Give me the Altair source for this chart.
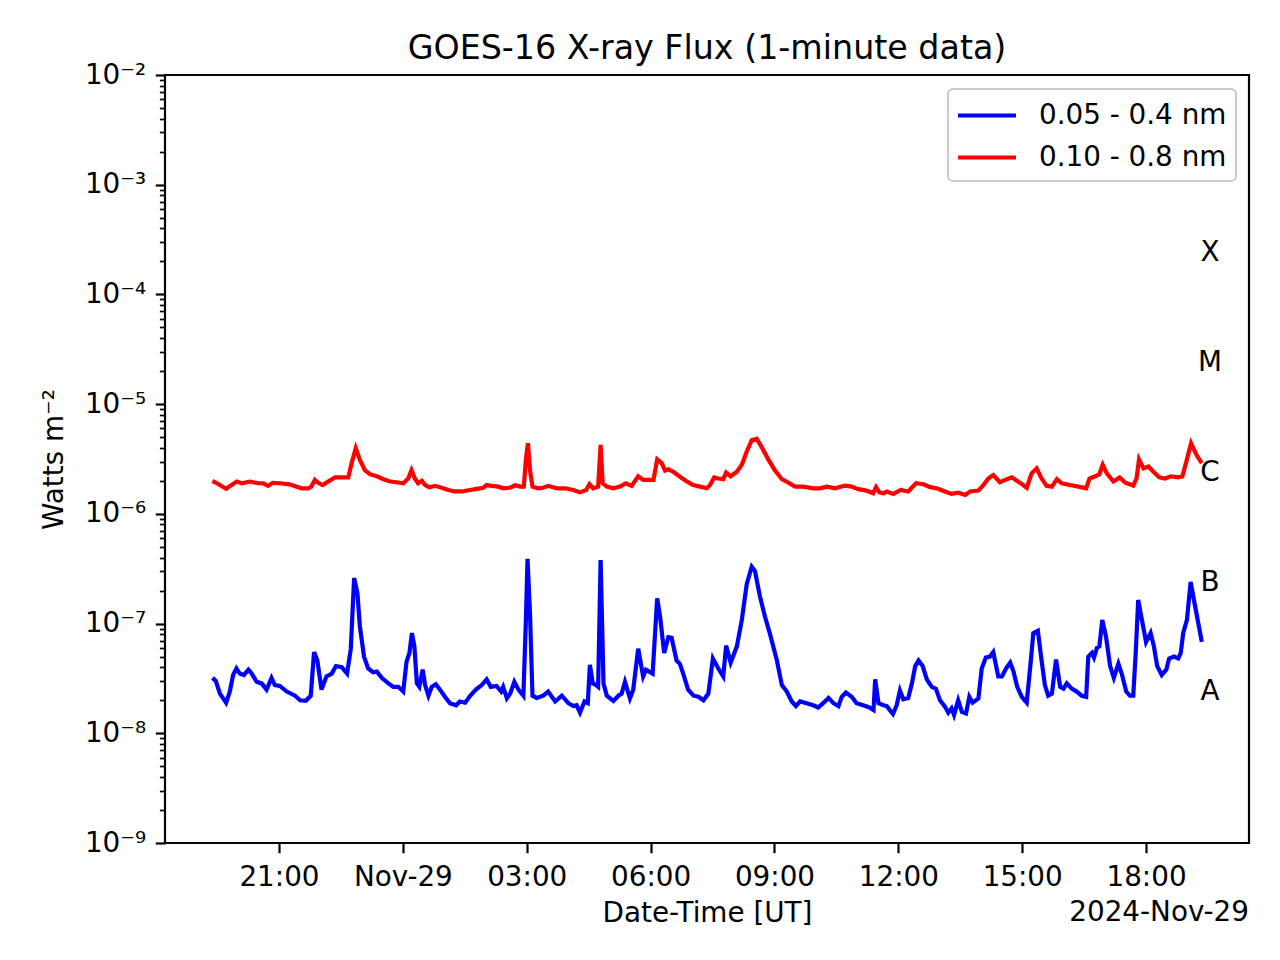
import altair as alt
import pandas as pd

# ---------------- data ----------------
# hours relative to 2024-11-29 00:00 UT
blue_hours = [-4.61, -4.53, -4.43, -4.28, -4.19, -4.11, -4.03, -3.95, -3.85, -3.74,
              -3.66, -3.54, -3.42, -3.30, -3.18, -3.10, -2.98, -2.81, -2.61, -2.49,
              -2.35, -2.23, -2.15, -2.07, -1.97, -1.85, -1.72, -1.62, -1.48, -1.35,
              -1.26, -1.18, -1.10, -1.04, -0.94, -0.84, -0.72, -0.63, -0.51, -0.35,
              -0.23, -0.11, 0.01, 0.09, 0.16, 0.22, 0.28, 0.34, 0.40, 0.48,
              0.54, 0.62, 0.70, 0.80, 0.90, 1.02, 1.14, 1.29, 1.38, 1.51,
              1.63, 1.77, 1.91, 2.03, 2.13, 2.27, 2.38, 2.43, 2.52, 2.60,
              2.70, 2.80, 2.92, 2.98, 3.02, 3.08, 3.14, 3.24, 3.40, 3.52,
              3.69, 3.85, 4.01, 4.13, 4.21, 4.29, 4.40, 4.48, 4.53, 4.60,
              4.68, 4.73, 4.79, 4.86, 4.94, 5.10, 5.22, 5.30, 5.38, 5.50,
              5.58, 5.70, 5.82, 5.89, 6.05, 6.16, 6.23, 6.33, 6.43, 6.51,
              6.63, 6.71, 6.79, 6.91, 7.04, 7.16, 7.28, 7.40, 7.51, 7.64,
              7.76, 7.83, 7.94, 8.09, 8.21, 8.33, 8.45, 8.53, 8.65, 8.77,
              8.89, 9.06, 9.18, 9.30, 9.42, 9.52, 9.62, 9.78, 9.94, 10.06,
              10.18, 10.31, 10.43, 10.55, 10.63, 10.73, 10.87, 10.99, 11.15, 11.30,
              11.40, 11.44, 11.52, 11.64, 11.72, 11.87, 11.96, 12.04, 12.12, 12.24,
              12.33, 12.41, 12.49, 12.59, 12.69, 12.81, 12.91, 13.01, 13.13, 13.21,
              13.29, 13.35, 13.45, 13.54, 13.64, 13.72, 13.80, 13.94, 14.02, 14.12,
              14.22, 14.30, 14.42, 14.51, 14.61, 14.71, 14.79, 14.88, 14.99, 15.11,
              15.21, 15.27, 15.38, 15.47, 15.55, 15.63, 15.72, 15.82, 15.92, 16.00,
              16.08, 16.20, 16.32, 16.44, 16.55, 16.60, 16.69, 16.74, 16.81, 16.87,
              16.94, 17.03, 17.13, 17.22, 17.33, 17.41, 17.52, 17.61, 17.69, 17.75,
              17.81, 17.90, 18.00, 18.11, 18.19, 18.27, 18.38, 18.49, 18.56, 18.68,
              18.78, 18.84, 18.90, 18.99, 19.08, 19.16, 19.35]
blue_flux = [3.2e-8, 3.0e-8, 2.3e-8, 1.9e-8, 2.4e-8, 3.4e-8, 3.9e-8, 3.5e-8, 3.4e-8, 3.8e-8,
             3.5e-8, 2.95e-8, 2.85e-8, 2.5e-8, 3.2e-8, 2.75e-8, 2.7e-8, 2.4e-8, 2.2e-8, 2.0e-8,
             1.98e-8, 2.2e-8, 5.5e-8, 4.6e-8, 2.5e-8, 3.3e-8, 3.5e-8, 4.1e-8, 4.0e-8, 3.5e-8,
             5.9e-8, 2.6e-7, 1.9e-7, 9.4e-8, 5.0e-8, 3.9e-8, 3.6e-8, 3.65e-8, 3.2e-8, 2.85e-8,
             2.65e-8, 2.65e-8, 2.4e-8, 4.5e-8, 5.4e-8, 8.2e-8, 6.2e-8, 2.85e-8, 2.65e-8, 3.8e-8,
             2.75e-8, 2.2e-8, 2.65e-8, 2.8e-8, 2.5e-8, 2.15e-8, 1.88e-8, 1.8e-8, 1.95e-8, 1.9e-8,
             2.2e-8, 2.5e-8, 2.75e-8, 3.1e-8, 2.65e-8, 2.7e-8, 2.4e-8, 2.65e-8, 2.08e-8, 2.3e-8,
             2.95e-8, 2.5e-8, 2.2e-8, 1.07e-7, 3.9e-7, 1.24e-7, 2.2e-8, 2.1e-8, 2.2e-8, 2.4e-8,
             1.95e-8, 2.2e-8, 1.88e-8, 1.77e-8, 1.8e-8, 1.54e-8, 1.95e-8, 1.88e-8, 4.2e-8, 2.85e-8,
             2.75e-8, 2.65e-8, 3.8e-7, 2.85e-8, 2.2e-8, 1.97e-8, 2.2e-8, 2.3e-8, 2.95e-8, 2.08e-8,
             2.5e-8, 5.9e-8, 3.3e-8, 3.8e-8, 3.5e-8, 1.7e-7, 1.16e-7, 5.4e-8, 7.5e-8, 7.4e-8,
             4.6e-8, 4.3e-8, 3.5e-8, 2.5e-8, 2.2e-8, 2.15e-8, 2.0e-8, 2.3e-8, 4.8e-8, 3.9e-8,
             3.3e-8, 6.3e-8, 4.4e-8, 6.2e-8, 1.08e-7, 2.3e-7, 3.3e-7, 3.0e-7, 1.76e-7, 1.16e-7,
             8.1e-8, 4.6e-8, 2.75e-8, 2.4e-8, 1.95e-8, 1.77e-8, 1.95e-8, 1.88e-8, 1.8e-8, 1.72e-8,
             1.88e-8, 2.1e-8, 1.88e-8, 1.77e-8, 2.15e-8, 2.35e-8, 2.15e-8, 1.88e-8, 1.8e-8, 1.72e-8,
             1.63e-8, 3.1e-8, 1.88e-8, 1.8e-8, 1.77e-8, 1.5e-8, 1.8e-8, 2.45e-8, 2.04e-8, 2.1e-8,
             2.85e-8, 4.1e-8, 4.6e-8, 4.1e-8, 3.1e-8, 2.65e-8, 2.55e-8, 2.0e-8, 1.75e-8, 1.54e-8,
             1.69e-8, 1.47e-8, 2.0e-8, 1.57e-8, 1.52e-8, 2.15e-8, 1.9e-8, 2.08e-8, 3.9e-8, 4.9e-8,
             5.0e-8, 5.5e-8, 3.3e-8, 3.3e-8, 3.9e-8, 4.4e-8, 3.65e-8, 2.65e-8, 2.15e-8, 1.9e-8,
             4.6e-8, 8.2e-8, 8.6e-8, 4.6e-8, 2.75e-8, 2.2e-8, 2.3e-8, 4.7e-8, 2.65e-8, 2.55e-8,
             2.85e-8, 2.55e-8, 2.4e-8, 2.2e-8, 2.15e-8, 5.0e-8, 5.4e-8, 4.9e-8, 6.0e-8, 6.2e-8,
             1.08e-7, 7.6e-8, 4.1e-8, 3.2e-8, 4.3e-8, 3.5e-8, 2.4e-8, 2.2e-8, 2.2e-8, 5.4e-8,
             1.64e-7, 1.08e-7, 6.8e-8, 8.2e-8, 6.2e-8, 4.1e-8, 3.4e-8, 3.8e-8, 4.8e-8, 5.0e-8,
             4.8e-8, 5.4e-8, 8.2e-8, 1.08e-7, 2.4e-7, 1.64e-7, 6.8e-8]

red_hours = [-4.61, -4.47, -4.28, -4.15, -4.02, -3.90, -3.70, -3.50, -3.38, -3.26,
             -3.15, -2.98, -2.74, -2.57, -2.45, -2.29, -2.22, -2.13, -2.05, -1.94,
             -1.81, -1.64, -1.48, -1.32, -1.24, -1.14, -1.04, -0.92, -0.80, -0.63,
             -0.47, -0.31, -0.15, 0.01, 0.13, 0.21, 0.29, 0.37, 0.46, 0.54,
             0.64, 0.78, 0.94, 1.10, 1.26, 1.43, 1.63, 1.79, 1.95, 2.03,
             2.15, 2.31, 2.43, 2.60, 2.72, 2.84, 2.93, 2.98, 3.03, 3.08,
             3.14, 3.28, 3.40, 3.52, 3.73, 3.93, 4.13, 4.29, 4.44, 4.52,
             4.61, 4.73, 4.79, 4.84, 4.94, 5.10, 5.26, 5.40, 5.54, 5.70,
             5.82, 6.07, 6.16, 6.27, 6.35, 6.43, 6.55, 6.71, 6.88, 7.03,
             7.20, 7.36, 7.44, 7.54, 7.64, 7.76, 7.83, 7.94, 8.09, 8.21,
             8.33, 8.45, 8.57, 8.69, 8.85, 9.01, 9.18, 9.34, 9.50, 9.70,
             9.94, 10.10, 10.27, 10.47, 10.71, 10.87, 11.03, 11.23, 11.39, 11.46,
             11.54, 11.65, 11.72, 11.88, 12.06, 12.24, 12.43, 12.61, 12.77, 12.93,
             13.13, 13.29, 13.45, 13.62, 13.74, 13.94, 14.06, 14.18, 14.30, 14.46,
             14.63, 14.75, 14.87, 14.99, 15.11, 15.23, 15.35, 15.47, 15.59, 15.72,
             15.84, 15.96, 16.16, 16.36, 16.55, 16.63, 16.77, 16.87, 16.95, 17.05,
             17.21, 17.36, 17.50, 17.69, 17.77, 17.83, 17.94, 18.06, 18.18, 18.32,
             18.46, 18.60, 18.78, 18.88, 18.99, 19.09, 19.23, 19.35]
red_flux = [2.0e-6, 1.87e-6, 1.69e-6, 1.83e-6, 1.97e-6, 1.9e-6, 1.97e-6, 1.9e-6, 1.9e-6, 1.8e-6,
            1.92e-6, 1.9e-6, 1.86e-6, 1.77e-6, 1.71e-6, 1.71e-6, 1.77e-6, 2.04e-6, 1.92e-6, 1.83e-6,
            1.97e-6, 2.15e-6, 2.15e-6, 2.15e-6, 2.9e-6, 3.96e-6, 3.1e-6, 2.5e-6, 2.3e-6, 2.2e-6,
            2.07e-6, 1.97e-6, 1.94e-6, 1.9e-6, 2.1e-6, 2.5e-6, 2.1e-6, 1.9e-6, 2.0e-6, 1.83e-6,
            1.75e-6, 1.8e-6, 1.73e-6, 1.65e-6, 1.6e-6, 1.6e-6, 1.65e-6, 1.69e-6, 1.73e-6, 1.83e-6,
            1.8e-6, 1.77e-6, 1.71e-6, 1.73e-6, 1.82e-6, 1.77e-6, 1.77e-6, 3.1e-6, 4.4e-6, 2.5e-6,
            1.77e-6, 1.71e-6, 1.73e-6, 1.8e-6, 1.71e-6, 1.71e-6, 1.65e-6, 1.57e-6, 1.65e-6, 1.87e-6,
            1.71e-6, 1.77e-6, 4.25e-6, 1.9e-6, 1.77e-6, 1.71e-6, 1.77e-6, 1.9e-6, 1.8e-6, 2.2e-6,
            2.04e-6, 2.04e-6, 3.14e-6, 2.9e-6, 2.48e-6, 2.55e-6, 2.42e-6, 2.18e-6, 1.97e-6, 1.83e-6,
            1.77e-6, 1.71e-6, 1.83e-6, 2.15e-6, 2.1e-6, 2.07e-6, 2.38e-6, 2.2e-6, 2.42e-6, 2.8e-6,
            3.7e-6, 4.7e-6, 4.85e-6, 4.06e-6, 3.14e-6, 2.5e-6, 2.07e-6, 1.92e-6, 1.77e-6, 1.77e-6,
            1.71e-6, 1.71e-6, 1.77e-6, 1.71e-6, 1.81e-6, 1.77e-6, 1.68e-6, 1.63e-6, 1.54e-6, 1.75e-6,
            1.57e-6, 1.54e-6, 1.6e-6, 1.52e-6, 1.65e-6, 1.6e-6, 1.9e-6, 1.86e-6, 1.75e-6, 1.71e-6,
            1.6e-6, 1.52e-6, 1.56e-6, 1.49e-6, 1.6e-6, 1.63e-6, 1.83e-6, 2.1e-6, 2.26e-6, 1.94e-6,
            2.07e-6, 2.15e-6, 2.0e-6, 1.87e-6, 1.73e-6, 2.34e-6, 2.6e-6, 2.1e-6, 1.8e-6, 1.77e-6,
            2.07e-6, 1.9e-6, 1.83e-6, 1.77e-6, 1.71e-6, 2.1e-6, 2.2e-6, 2.3e-6, 2.8e-6, 2.34e-6,
            1.97e-6, 2.15e-6, 1.92e-6, 1.81e-6, 2.1e-6, 3.14e-6, 2.6e-6, 2.7e-6, 2.42e-6, 2.15e-6,
            2.1e-6, 2.2e-6, 2.15e-6, 2.2e-6, 3.14e-6, 4.4e-6, 3.4e-6, 2.9e-6]

band_labels = ["0.05 - 0.4 nm", "0.10 - 0.8 nm"]
band_colors = ["blue", "red"]

class_labels = ["A", "B", "C", "M", "X"]
class_levels = [2e-8, 2e-7, 2e-6, 2e-5, 2e-4]
class_label_hour = 19.55

x_tick_times = ["2024-11-28T21:00:00Z", "2024-11-29T00:00:00Z", "2024-11-29T03:00:00Z",
                "2024-11-29T06:00:00Z", "2024-11-29T09:00:00Z", "2024-11-29T12:00:00Z",
                "2024-11-29T15:00:00Z", "2024-11-29T18:00:00Z"]
x_domain_times = ["2024-11-28T18:14:24Z", "2024-11-29T20:29:36Z"]
y_major = [1e-9, 1e-8, 1e-7, 1e-6, 1e-5, 1e-4, 1e-3, 1e-2]
y_minor = [k * 10.0 ** e for e in range(-9, -2) for k in range(2, 10)]

offset_text = "2024-Nov-29"
title_text = "GOES-16 X-ray Flux (1-minute data)"

assert len(blue_hours) == len(blue_flux)
assert len(red_hours) == len(red_flux)

# ---------------- build tables ----------------
base = pd.Timestamp("2024-11-29T00:00:00Z")


def iso(h):
    return (base + pd.Timedelta(hours=h)).strftime("%Y-%m-%dT%H:%M:%SZ")


def ms(s):
    return int(pd.Timestamp(s).value // 10**6)


df = pd.DataFrame({
    "time": [iso(h) for h in blue_hours] + [iso(h) for h in red_hours],
    "flux": blue_flux + red_flux,
    "band": [band_labels[0]] * len(blue_hours) + [band_labels[1]] * len(red_hours),
    "order": list(range(len(blue_hours))) + list(range(len(red_hours))),
})
cls_df = pd.DataFrame({
    "label": class_labels,
    "level": class_levels,
    "time": [iso(class_label_hour)] * len(class_labels),
})

FONT = "DejaVu Sans"
FS = 27.8
W, H = 1084, 768

xscale = alt.Scale(type="utc", domain=[ms(t) for t in x_domain_times], nice=False)
yscale = alt.Scale(type="log", domain=[1e-9, 1e-2], nice=False)

sup = "['⁰','¹','²','³','⁴','⁵','⁶','⁷','⁸','⁹']"
y_label_expr = "'10⁻' + " + sup + "[round(-log(datum.value)/LN10)]"


def make_x_axis():
    return alt.Axis(
        orient="bottom",
        values=[ms(t) for t in x_tick_times],
        labelExpr="utchours(datum.value) == 0 ? utcFormat(datum.value, '%b-%d') : utcFormat(datum.value, '%H:%M')",
        tickSize=9.7, tickWidth=2.2, tickColor="black", ticks=True,
        labelFont=FONT, labelFontSize=FS, labelColor="black",
        labelPadding=32.3, labelBaseline="alphabetic", labelFlush=False, labelOverlap=False,
        domain=False, grid=False,
        title="Date-Time [UT]", titleFont=FONT, titleFontSize=FS, titleFontWeight="normal",
        titleColor="black", titleY=78.7, titleBaseline="alphabetic",
    )


y_axis_major = alt.Axis(
    orient="left", values=y_major, labelExpr=y_label_expr,
    tickSize=9.7, tickWidth=2.2, tickColor="black",
    labelFont=FONT, labelFontSize=FS, labelColor="black",
    labelPadding=9.7, labelBaseline="middle", labelOverlap=False, labelFlush=False,
    domain=False, grid=False,
    title="Watts m⁻²", titleFont=FONT, titleFontSize=FS, titleFontWeight="normal",
    titleColor="black", titleX=-103, titleBaseline="alphabetic", titleAngle=270,
)

y_axis_minor = alt.Axis(
    orient="left", values=y_minor, labels=False,
    tickSize=5.6, tickWidth=1.7, tickColor="black",
    domain=False, grid=False, title=None,
)

lines = alt.Chart(df).mark_line(strokeWidth=4.2).encode(
    x=alt.X("time:T", scale=xscale, axis=make_x_axis()),
    y=alt.Y("flux:Q", scale=yscale, axis=y_axis_major),
    color=alt.Color(
        "band:N",
        scale=alt.Scale(domain=band_labels, range=band_colors),
        legend=alt.Legend(
            title=None, orient="top-right", offset=13.5,
            symbolType="M-2,0H2", symbolSize=841, symbolStrokeWidth=4.2,
            symbolOffset=12.5, labelOffset=35,
            labelFont=FONT, labelFontSize=FS, labelColor="black", labelLimit=500,
            padding=9.5, rowPadding=11,
            strokeColor="#cccccc", fillColor="rgba(255,255,255,0.8)", cornerRadius=5,
        ),
    ),
    order="order:Q",
)

classes = alt.Chart(cls_df).mark_text(
    font=FONT, fontSize=FS, color="black", align="center", baseline="alphabetic"
).encode(
    x=alt.X("time:T", scale=xscale, axis=make_x_axis()),
    y=alt.Y("level:Q", scale=yscale, axis=y_axis_minor),
    text="label:N",
)

offset_label = alt.Chart(pd.DataFrame({"t": [offset_text]})).mark_text(
    font=FONT, fontSize=FS, color="black", align="right", baseline="alphabetic"
).encode(
    x=alt.value(W), y=alt.value(H + 78), text="t:N"
)

chart = alt.layer(lines, classes, offset_label).resolve_axis(
    y="independent"
).properties(
    width=W, height=H,
    background="white",
    autosize=alt.AutoSizeParams(type="none"),
    padding={"left": 165, "top": 75, "right": 31, "bottom": 117},
    title=alt.TitleParams(
        title_text, font=FONT, fontSize=33.3, fontWeight="normal", color="black",
        anchor="middle", frame="group", offset=-5,
    ),
).configure_view(
    stroke="black", strokeWidth=2.2
).configure_legend(
    strokeWidth=2.2
)

chart.save("out.html", embed_options={"renderer": "svg", "actions": False})
